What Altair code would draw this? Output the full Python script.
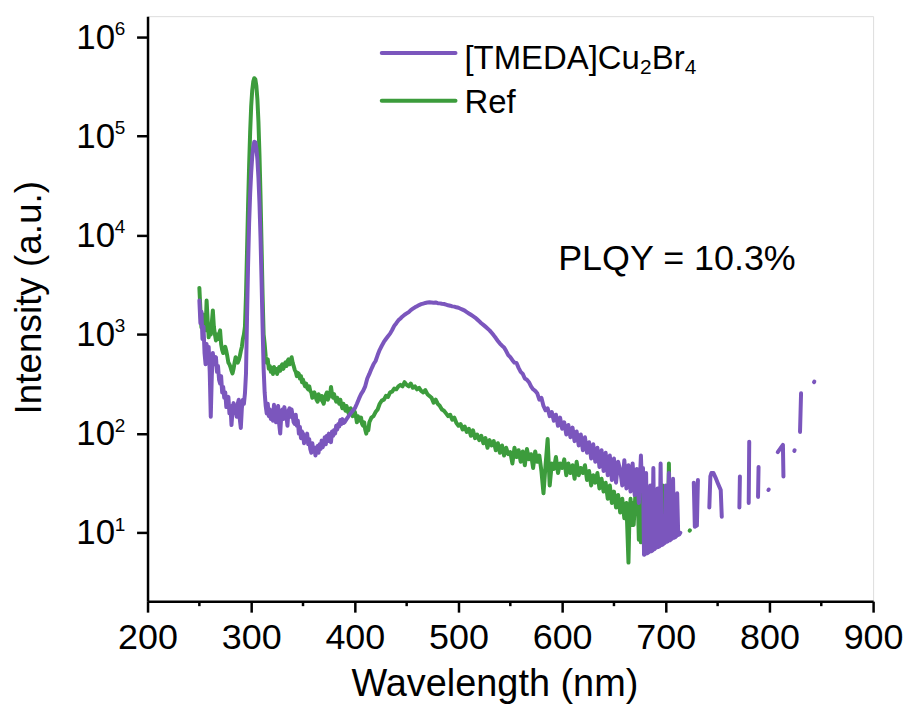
import altair as alt
import pandas as pd

PURPLE = "#7B56BD"
GREEN = "#3C9C3C"
FONT = "Liberation Sans"

# ---------------- data ----------------
tmeda_wl = [250, 251, 252, 253, 254, 255, 256, 257, 258, 259, 260, 261, 262, 263, 264, 265, 266, 267, 268, 269,
            270, 271, 272, 273, 274, 275, 276, 277, 278, 279, 280, 281, 282, 283, 284, 285, 286, 287, 288, 289,
            290, 291, 292, 293, 294, 295, 296, 297, 298, 299, 300, 301, 302, 303, 304, 305, 306, 307, 308, 309,
            310, 311, 312, 313, 314, 315, 316, 317, 318, 319, 320, 321, 322, 323, 324, 325, 326, 327, 328, 329,
            330, 331, 332, 333, 334, 335, 336, 337, 338, 339, 340, 341, 342, 343, 344, 345, 346, 347, 348, 349,
            350, 351, 352, 353, 354, 355, 356, 357, 358, 359, 360, 361, 362, 363, 364, 365, 366, 367, 368, 369,
            370, 371, 372, 373, 374, 375, 376, 377, 378, 379, 380, 381, 382, 383, 384, 385, 386, 387, 388, 389,
            390, 392, 394, 396, 398, 400, 402, 404, 406, 408, 410, 412, 414, 416, 418, 420, 422, 424, 426, 428,
            430, 432, 434, 436, 438, 440, 442, 444, 446, 448, 450, 452, 454, 456, 458, 460, 462, 464, 466, 468,
            470, 472, 474, 476, 478, 480, 482, 484, 486, 488, 490, 492, 494, 496, 498, 500, 502, 504, 506, 508,
            510, 512, 514, 516, 518, 520, 522, 524, 526, 528, 530, 532, 534, 536, 538, 540, 542, 544, 546, 548,
            550, 552, 554, 556, 558, 560, 562, 564, 566, 568, 570, 572, 574, 576, 578, 580, 582, 584, 586, 588,
            590, 592, 594, 596, 598, 600, 602, 604, 606, 608, 610, 612, 614, 616, 618, 620, 622, 624, 626, 628,
            630, 632, 634, 636, 638, 640, 642, 644, 646, 648, 650, 652, 654, 656, 658, 660, 662, 664, 666, 668,
            670, 672, 674, 676, 677, 678, 679, 680, 681, 682, 683, 684, 685, 686, 687, 688, 689, 690, 691, 692,
            693, 694, 695, 696, 697, 698, 699, 700, 701, 702, 703, 704, 705, 706, 707, 708, 709, 710, 711, 712,
            713, 714, None,
            727, 728, 730, 731, None,
            742, 743, 744, 746, 748, 750, 753, 754, None,
            771, 771.5, None,
            780, 780.5, None,
            789, 789.5, None,
            799, 799.3, None,
            808, 813, 813.5, None,
            824, 824.3, None,
            829.5, 830.5, None,
            843, 843.3]

tmeda_int = [2200, 1300, 1700, 900, 1200, 650, 500, 800, 600, 750, 420, 148, 380, 650, 500, 560, 590, 420, 480, 350,
             320, 380, 260, 296, 230, 260, 185, 215, 235, 160, 190, 122, 170, 203, 160, 190, 148, 200, 220, 140,
             114, 180, 220, 200, 255, 405, 1500, 5000, 13000, 26000, 43000, 62000, 78000, 88000, 87000, 76000, 58000, 38000, 21000, 9500,
             3500, 1200, 450, 260, 190, 160, 200, 150, 175, 140, 170, 135, 195, 150, 130, 175, 190, 125, 100, 150,
             175, 140, 185, 160, 150, 120, 170, 180, 148, 175, 150, 130, 125, 155, 120, 135, 100, 117, 90, 105,
             100, 80, 95, 85, 100, 78, 88, 70, 64, 80, 66, 72, 60, 68, 75, 64, 78, 70, 85, 73,
             80, 92, 78, 95, 84, 100, 90, 82, 105, 95, 109, 100, 120, 110, 125, 118, 137, 125, 140, 128,
             130, 140, 150, 160, 170, 180, 200, 225, 250, 270, 300, 360, 400, 450, 500, 540, 620, 700, 770, 840,
             900, 960, 1020, 1110, 1220, 1300, 1390, 1450, 1520, 1580, 1630, 1680, 1760, 1820, 1880, 1930, 1980, 2020, 2050, 2080,
             2100, 2110, 2100, 2090, 2100, 2070, 2060, 2040, 2030, 2000, 1970, 1950, 1920, 1910, 1880, 1860, 1820, 1780, 1740, 1680,
             1630, 1580, 1530, 1480, 1420, 1360, 1300, 1250, 1200, 1150, 1100, 1040, 980, 920, 860, 810, 770, 740, 680, 620,
             590, 550, 520, 515, 460, 420, 400, 360, 350, 330, 300, 280, 270, 255, 220, 230, 190, 172, 180, 150,
             165, 135, 155, 120, 145, 112, 130, 98, 122, 92, 115, 84, 105, 76, 98, 68, 92, 64, 82, 56,
             78, 52, 72, 46, 68, 42, 64, 38, 60, 34, 56, 32, 52, 43, 30, 54, 28, 48, 26, 50,
             24, 44, 20, 60, 30, 45, 6.0, 6.1, 40, 6.2, 6.3, 6.4, 30, 6.5, 6.6, 45, 6.8, 7.0, 7.1, 28,
             7.2, 7.3, 50, 7.5, 7.6, 7.8, 7.9, 30, 8.1, 8.2, 40, 8.4, 8.6, 8.7, 35, 8.9, 9.0, 9.2, 25, 9.5,
             9.6, 10, None,
             32, 11.5, 11.8, 34, None,
             18, 37, 40, 40, 36, 32, 27, 14.5, None,
             18, 37, None,
             20, 83, None,
             23, 46, None,
             27, 27.3, None,
             65, 77, 37, None,
             67, 68, None,
             104, 255, None,
             330, 335]

ref_wl = [250, 251, 252, 253, 254, 255, 256, 257, 258, 259, 260, 261, 262, 263, 264, 265, 266, 267, 268, 269,
          270, 271, 272, 273, 274, 275, 276, 277, 278, 279, 280, 281, 282, 283, 284, 285, 286, 287, 288, 289,
          290, 291, 292, 293, 294, 295, 296, 297, 298, 299, 300, 301, 302, 303, 304, 305, 306, 307, 308, 309,
          310, 311, 312, 313, 314, 315, 316, 317, 318, 319, 320, 321, 322, 323, 324, 325, 326, 327, 328, 329,
          330, 331, 332, 333, 334, 335, 336, 337, 338, 339, 340, 341, 342, 343, 344, 345, 346, 347, 348, 349,
          350, 351, 352, 353, 354, 355, 356, 357, 358, 359, 360, 361, 362, 363, 364, 365, 366, 367, 368, 369,
          370, 371, 372, 373, 374, 375, 376, 377, 378, 379, 380, 381, 382, 383, 384, 385, 386, 387, 388, 389,
          390, 391, 392, 393, 394, 395, 396, 397, 398, 399, 400, 401, 402, 403, 404, 405, 406, 407, 408, 409,
          410, 411, 412, 413, 414, 416, 418, 420, 422, 424, 426, 428, 430, 432, 434, 436, 438, 440, 442, 444,
          446, 448, 450, 452, 454, 456, 458, 460, 462, 464, 466, 468, 470, 472, 474, 476, 478, 480, 482, 484,
          486, 488, 490, 492, 494, 496, 498, 500, 502, 504, 506, 508, 510, 512, 514, 516, 518, 520, 522, 524,
          526, 528, 530, 532, 534, 536, 538, 540, 542, 544, 546, 548, 550, 552, 554, 556, 558, 560, 562, 564,
          566, 568, 570, 572, 574, 576, 578, 580, 582, 584, 586, 588, 590, 592, 594, 596, 598, 600, 602, 604,
          606, 608, 610, 612, 614, 616, 618, 620, 622, 624, 626, 628, 630, 632, 634, 636, 638, 640, 642, 644,
          646, 648, 650, 652, 654, 656, 658, 660, 662, 664, 665, 666, 667, 668, 669, 670, 671, 672, 673, 674,
          675, 676, 677, 678, 679, 680, 681, 682, 683, 684, 685, 686, 687, 688, 689, 690, 691, 692, 693, 694,
          695, 696, 697, 698, 699, 700, 701, 702, 703, 704, 705, 706, 707, 708, None,
          723, 723.3]

ref_int = [2950, 1800, 1180, 1600, 1300, 1500, 1100, 2200, 1400, 935, 1200, 1000, 1300, 1750, 1200, 1000, 870, 1000, 900, 1000,
           1100, 800, 700, 650, 700, 750, 680, 600, 520, 500, 470, 430, 405, 450, 520, 590, 560, 520, 550, 600,
           680, 750, 900, 1000, 1200, 2500, 7000, 20000, 50000, 110000, 200000, 290000, 355000, 385000, 375000, 320000, 235000, 140000, 65000, 25000,
           8000, 2500, 1000, 800, 600, 520, 560, 450, 480, 420, 460, 400, 470, 420, 450, 400, 430, 470, 430, 480,
           500, 450, 480, 520, 480, 540, 560, 500, 540, 590, 520, 480, 440, 420, 380, 410, 400, 360, 380, 330,
           350, 320, 300, 320, 290, 280, 300, 270, 260, 230, 250, 260, 240, 220, 210, 250, 230, 220, 240, 210,
           200, 230, 245, 260, 220, 235, 240, 296, 250, 230, 250, 225, 210, 230, 215, 200, 220, 195, 180, 200,
           185, 170, 190, 175, 160, 172, 180, 165, 150, 172, 165, 150, 130, 150, 137, 135, 145, 125, 120, 130,
           110, 100, 115, 108, 130, 145, 150, 165, 175, 200, 215, 220, 240, 235, 260, 265, 285, 280, 300, 310,
           300, 330, 310, 300, 320, 290, 300, 280, 290, 270, 260, 275, 250, 240, 230, 205, 220, 200, 190, 175,
           170, 160, 150, 155, 138, 145, 128, 120, 125, 110, 118, 104, 112, 95, 108, 90, 98, 86, 95, 80,
           90, 72, 86, 76, 84, 68, 80, 64, 76, 60, 72, 62, 65, 50, 72, 58, 68, 52, 66, 48,
           70, 55, 62, 45, 66, 52, 60, 42, 25, 48, 88, 30, 50, 44, 58, 40, 50, 45, 55, 38,
           50, 40, 48, 35, 52, 38, 45, 40, 48, 34, 42, 30, 38, 32, 40, 28, 35, 26, 32, 22,
           30, 20, 26, 18, 24, 16, 22, 14, 20, 5, 16, 22, 12, 20, 12, 18, 28, 16, 22, 8.5,
           18, 8, 25, 12, 15, 7.8, 22, 14, 12, 8.2, 28, 13, 15, 8.6, 20, 11, 12, 9, 25, 12,
           14, 9.2, 30, 11, 12, 9.5, 20, 12, 50, 9.8, 25, 12, 14, 10, None,
           10.5, 10.6]

x_major = [200, 300, 400, 500, 600, 700, 800, 900]
x_minor = [250, 350, 450, 550, 650, 750, 850]
y_major = [10, 100, 1000, 10000, 100000, 1000000]
y_exponents = ["1", "2", "3", "4", "5", "6"]


def to_frame(wl, vals, name):
    rows, seg = [], 0
    for w, v in zip(wl, vals):
        if v is None:
            seg += 1
            continue
        rows.append({"wl": w, "I": v, "series": name, "seg": f"{name}-{seg}"})
    return pd.DataFrame(rows)


df_t = to_frame(tmeda_wl, tmeda_int, "TMEDA")
df_r = to_frame(ref_wl, ref_int, "Ref")

xscale = alt.Scale(domain=[200, 900], nice=False, zero=False)
yscale = alt.Scale(type="log", domain=[2.04, 1.626e6], nice=False)

x_axis = alt.Axis(values=x_major, tickSize=11, tickWidth=2.5, domainWidth=2.5, domainColor="black",
                  tickColor="black", labelFontSize=36, labelFont=FONT, labelColor="black", labelPadding=8,
                  labelFlush=False, labelOverlap=False, grid=False, title="Wavelength (nm)",
                  titleFont=FONT, titleFontSize=38, titleFontWeight="normal", titleColor="black",
                  titleX=348, titleY=95, titleBaseline="alphabetic", titleAlign="center")
y_axis = alt.Axis(values=y_major, labelExpr="'10'", tickSize=11, tickWidth=2.5, domainWidth=2.5,
                  domainColor="black", tickColor="black", labelFontSize=35, labelFont=FONT,
                  labelColor="black", labelPadding=22, labelFlush=False, labelOverlap=False, grid=False,
                  title="Intensity (a.u.)", titleFont=FONT, titleFontSize=37, titleFontWeight="normal",
                  titleColor="black", titleX=-107, titleY=282, titleBaseline="alphabetic",
                  titleAlign="center", titleAngle=270)

color_scale = alt.Scale(domain=["Ref", "TMEDA"], range=[GREEN, PURPLE])


def line_layer(df):
    return alt.Chart(df).mark_line(strokeWidth=4, strokeCap="round", strokeJoin="round", clip=True).encode(
        x=alt.X("wl:Q", scale=xscale, axis=x_axis),
        y=alt.Y("I:Q", scale=yscale, axis=y_axis),
        color=alt.Color("series:N", scale=color_scale, legend=None),
        detail="seg:N",
        order="wl:Q",
    )


ref_line = line_layer(df_r)
tmeda_line = line_layer(df_t)

minor = alt.Chart(pd.DataFrame({"wl": x_minor})).mark_rule(color="black", strokeWidth=2.5).encode(
    x=alt.X("wl:Q", scale=xscale), y=alt.value(587), y2=alt.value(592))

exps = alt.Chart(pd.DataFrame({"I": y_major, "e": y_exponents})).mark_text(
    align="left", baseline="alphabetic", fontSize=19, font=FONT, color="black", dy=-2).encode(
    x=alt.value(-33), y=alt.Y("I:Q", scale=yscale), text="e:N")

one = pd.DataFrame({"k": [0]})


def txt(s, x, y, size, color="black"):
    return alt.Chart(one).mark_text(align="left", baseline="alphabetic", fontSize=size, font=FONT,
                                    color=color).encode(x=alt.value(x), y=alt.value(y), text=alt.value(s))


def leg_line(y, color):
    return alt.Chart(one).mark_rule(color=color, strokeWidth=4, strokeCap="round").encode(
        x=alt.value(235), x2=alt.value(309), y=alt.value(y))


legend = [
    leg_line(37, PURPLE), leg_line(85, GREEN),
    txt("[TMEDA]Cu", 318, 53, 33), txt("2", 494, 58, 21), txt("Br", 506, 53, 33), txt("4", 539, 58, 21),
    txt("Ref", 318, 97, 33),
    txt("PLQY = 10.3%", 412, 255, 36),
]

chart = alt.layer(ref_line, tmeda_line, minor, exps, *legend).properties(
    width=728, height=587,
    padding={"left": 140, "top": 7, "right": 30, "bottom": 104},
    autosize=alt.AutoSizeParams(type="none"),
).configure_view(stroke="black", strokeWidth=2.5).configure(background="white")

chart.save("out.html", embed_options={"renderer": "svg", "actions": False})
